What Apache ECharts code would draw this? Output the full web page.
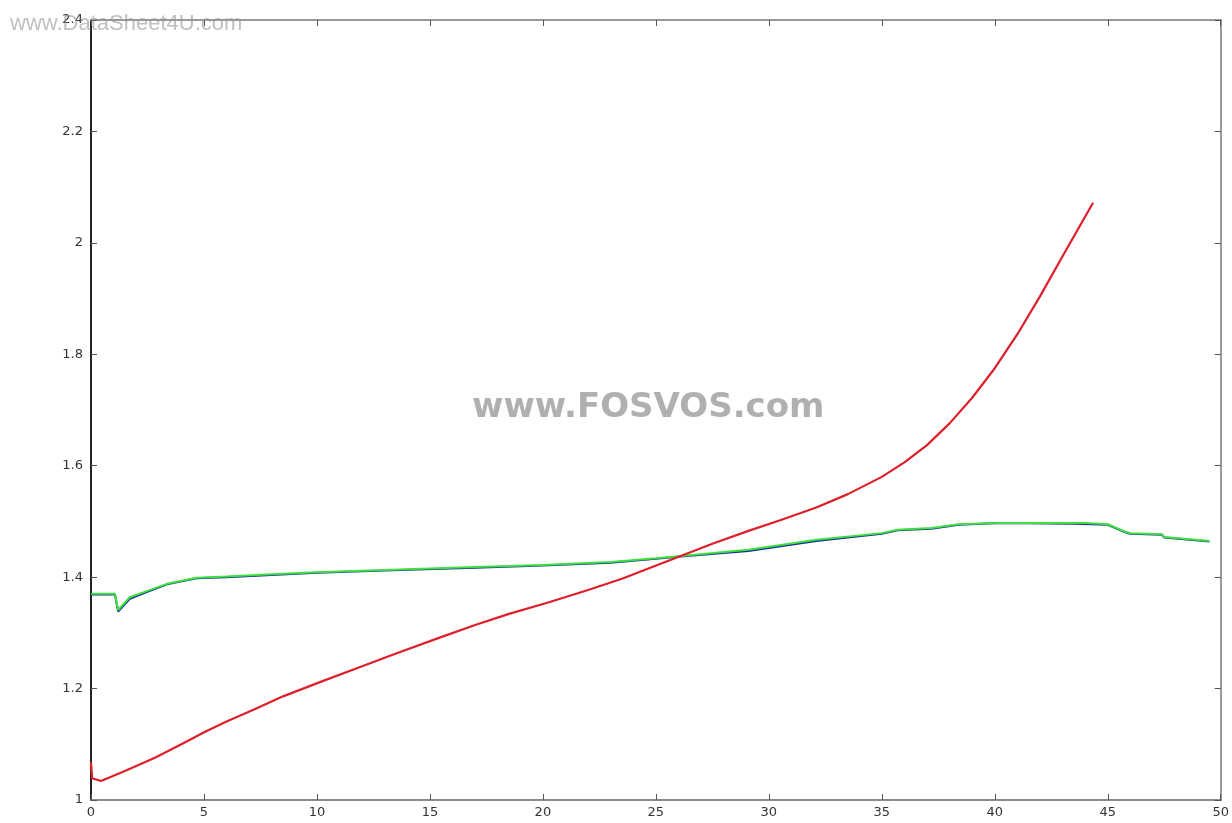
<!DOCTYPE html>
<html><head><meta charset="utf-8">
<script src="https://cdn.jsdelivr.net/npm/echarts@6/dist/echarts.min.js"></script>
<style>html,body{margin:0;padding:0;background:#fff}#c{width:1232px;height:823px}</style>
</head><body><div id="c"></div>
<script>
const xTicks = [0,5,10,15,20,25,30,35,40,45,50];
const yTicks = [1,1.2,1.4,1.6,1.8,2,2.2,2.4];

const redX = [0,0.05,0.44,1.5,2.83,4.0,5.03,6.0,7.24,8.5,10.16,12.0,13.5,15.4,17.0,18.5,20.27,22.0,23.5,24.7,26.1,27.5,29.1,30.5,32.1,33.5,35.0,36.0,37.0,38.0,39.0,40.0,41.0,42.0,43.0,44.35];
const redY = [1.068,1.039,1.034,1.052,1.076,1.100,1.122,1.141,1.163,1.186,1.212,1.240,1.263,1.291,1.314,1.334,1.355,1.377,1.397,1.416,1.438,1.460,1.483,1.502,1.525,1.549,1.580,1.606,1.637,1.676,1.722,1.775,1.836,1.904,1.976,2.072];

const greenX = [0,1.06,1.2,1.72,2.47,3.36,4.68,6.0,8.0,10,13,17,20,23,25,26.1,29.1,32.1,35.0,35.7,37.2,38.4,40.2,44.0,45.0,45.8,46.0,47.4,47.5,49.5];
const greenY = [1.370,1.370,1.341,1.364,1.375,1.388,1.399,1.401,1.405,1.409,1.413,1.418,1.422,1.427,1.434,1.438,1.449,1.467,1.479,1.485,1.488,1.495,1.497,1.497,1.495,1.481,1.479,1.477,1.472,1.465];

const blueX = [0,1.06,1.2,1.72,2.47,3.36,4.68,6.0,8.0,10,13,17,20,23,25,26.1,29.1,32.1,35.0,35.7,37.2,38.4,40.2,43.5,45.0,45.8,46.0,47.4,47.5,49.5];
const blueY = [1.369,1.369,1.338,1.361,1.373,1.387,1.398,1.400,1.404,1.408,1.412,1.417,1.421,1.426,1.433,1.437,1.447,1.465,1.478,1.484,1.487,1.494,1.497,1.496,1.494,1.480,1.478,1.476,1.471,1.464];

const pairs = (xs, ys) => xs.map((x, i) => [x, ys[i]]);

const chart = echarts.init(document.getElementById('c'));
const labelFont = {fontFamily: 'DejaVu Sans', fontSize: 13, color: '#333'};
chart.setOption({
  animation: false,
  backgroundColor: '#fff',
  grid: {left: 91, right: 9, top: 20, bottom: 23, containLabel: false},
  xAxis: [
    {type: 'value', min: 0, max: 50, interval: 5, position: 'bottom',
     axisLine: {onZero: false, lineStyle: {color: '#8c8c8c', width: 2}},
     axisTick: {inside: true, length: 6, lineStyle: {color: '#555'}},
     axisLabel: Object.assign({margin: 6}, labelFont),
     splitLine: {show: false}},
    {type: 'value', min: 0, max: 50, interval: 5, position: 'top',
     axisLine: {onZero: false, lineStyle: {color: '#999', width: 2}},
     axisTick: {inside: true, length: 6, lineStyle: {color: '#555'}},
     axisLabel: {show: false}, splitLine: {show: false}}
  ],
  yAxis: [
    {type: 'value', min: 1, max: 2.4, interval: 0.2, position: 'left',
     axisLine: {onZero: false, lineStyle: {color: '#222', width: 2}},
     axisTick: {inside: true, length: 6, lineStyle: {color: '#555'}},
     axisLabel: Object.assign({margin: 8}, labelFont),
     splitLine: {show: false}},
    {type: 'value', min: 1, max: 2.4, interval: 0.2, position: 'right',
     axisLine: {onZero: false, lineStyle: {color: '#999', width: 2}},
     axisTick: {inside: true, length: 6, lineStyle: {color: '#555'}},
     axisLabel: {show: false}, splitLine: {show: false}}
  ],
  graphic: [
    {type: 'text', left: 10, top: 13, z: 100,
     style: {text: 'www.DataSheet4U.com', font: '22px "Liberation Sans", Arial, sans-serif', fill: 'rgba(150,150,150,0.6)'}},
    {type: 'text', left: 472, top: 391, z: 100,
     style: {text: 'www.FOSVOS.com', font: 'bold 34px "DejaVu Sans", sans-serif', fill: 'rgba(150,150,150,0.75)'}}
  ],
  series: [
    {type: 'line', name: 'blue', data: pairs(blueX, blueY), showSymbol: false,
     lineStyle: {color: '#1a2fa0', width: 2}, z: 2},
    {type: 'line', name: 'green', data: pairs(greenX, greenY), showSymbol: false,
     lineStyle: {color: '#3ee03e', width: 2}, z: 3},
    {type: 'line', name: 'red', data: pairs(redX, redY), showSymbol: false,
     lineStyle: {color: '#dd1f2a', width: 2.2}, z: 4}
  ]
});
</script></body></html>
